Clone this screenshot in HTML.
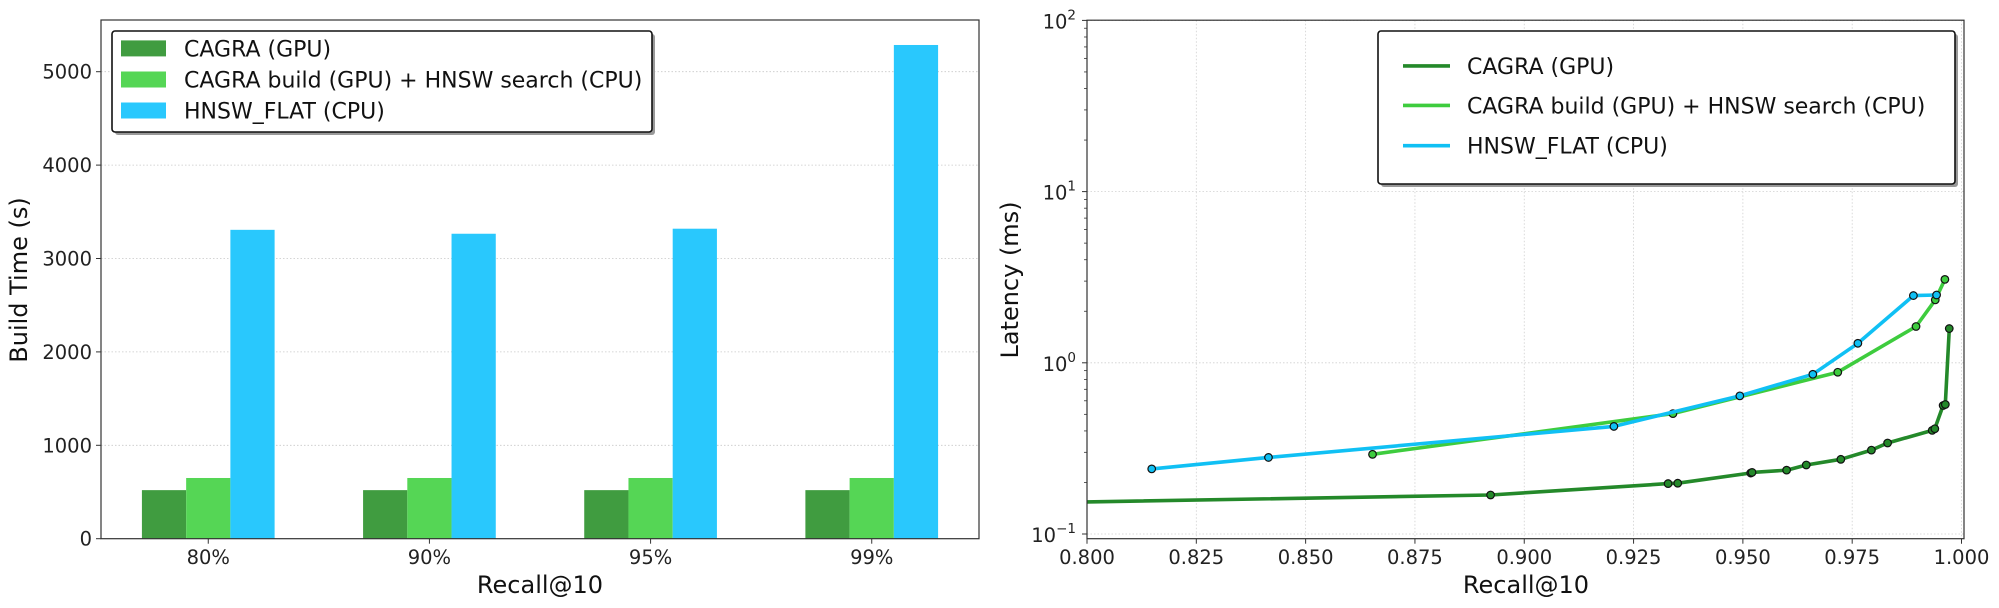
<!DOCTYPE html>
<html><head><meta charset="utf-8">
<style>
html,body{margin:0;padding:0;background:#fff;}
svg{display:block;font-family:"DejaVu Sans","Liberation Sans",sans-serif;}
</style></head>
<body>
<svg id="fig" width="1999" height="608" viewBox="0 0 1999 608" xmlns="http://www.w3.org/2000/svg">
<defs>
<clipPath id="clipR"><rect x="1087" y="20" width="877" height="519"/></clipPath>
</defs>
<rect width="1999" height="608" fill="#fff"/>
<g id="left"></g>
<g id="right"></g>
</svg>
<script>
// ---------- Left chart data ----------
const barCategories = ["80%", "90%", "95%", "99%"];
const cagraGpuBuild = [520, 520, 520, 520];
const cagraHnswBuild = [650, 650, 650, 650];
const hnswFlatBuild = [3307, 3265, 3319, 5286];
const barYTicks = [0, 1000, 2000, 3000, 4000, 5000];

// ---------- Right chart data ----------
const cagraRecall = [0.78, 0.8923, 0.9329, 0.9351, 0.9518, 0.9521, 0.96, 0.9645, 0.9724, 0.9794, 0.9831, 0.9933, 0.9939, 0.9958, 0.9963, 0.9972];
const cagraLatency = [0.151, 0.169, 0.197, 0.198, 0.227, 0.229, 0.236, 0.253, 0.273, 0.309, 0.340, 0.403, 0.412, 0.563, 0.571, 1.585];
const hybridRecall = [0.8653, 0.934, 0.9717, 0.9896, 0.994, 0.9962];
const hybridLatency = [0.292, 0.505, 0.881, 1.63, 2.33, 3.07];
const hnswRecall = [0.8148, 0.8415, 0.9205, 0.9493, 0.966, 0.9763, 0.989, 0.9943];
const hnswLatency = [0.240, 0.280, 0.425, 0.641, 0.857, 1.30, 2.47, 2.49];
const lineXTicks = [0.8, 0.825, 0.85, 0.875, 0.9, 0.925, 0.95, 0.975, 1.0];
const lineYTickExps = [-1, 0, 1, 2];

const NS = "http://www.w3.org/2000/svg";
function mk(parent, tag, attrs, text) {
  const e = document.createElementNS(NS, tag);
  for (const k in attrs) e.setAttribute(k, attrs[k]);
  if (text !== undefined) e.textContent = text;
  parent.appendChild(e);
  return e;
}

// ===== LEFT =====
(function(){
  const g = document.getElementById('left');
  const L = 101, R = 979, T = 20, B = 538.7;
  const yMax = (B - T) / 93.4 * 1000;
  const y = v => B - v / yMax * (B - T);
  const step = (R - L) / 3.97;
  const x = i => L + (i + 0.485) * step;
  const bw = 0.2 * step;
  // grid
  barYTicks.forEach(t => {
    if (t > 0) {
      const gl = mk(g, 'line', {x1:L, x2:R, y1:y(t), y2:y(t), stroke:'#c8c8c8', 'stroke-width':0.8, 'stroke-dasharray':'1.5,2'});
      
      
    }
    const tk = mk(g, 'line', {x1:L-5, x2:L, y1:y(t), y2:y(t), stroke:'#333', 'stroke-width':1});
    
    
    const tl = mk(g, 'text', {x:L-9, y:y(t)+7, 'text-anchor':'end', 'font-size':19.5, fill:'#222'}, String(t));
    
    
  });
  const series = [
    {vals: cagraGpuBuild, color:'#409c40', off:-1, name:'bar-cagra-gpu'},
    {vals: cagraHnswBuild, color:'#55d655', off:0, name:'bar-cagra-build-hnsw-search'},
    {vals: hnswFlatBuild, color:'#29c8fd', off:1, name:'bar-hnsw-flat'}
  ];
  series.forEach(s => {
    s.vals.forEach((v, i) => {
      const cx = x(i) + s.off * bw;
      const r = mk(g, 'rect', {x:cx - bw/2, y:y(v), width:bw, height:B - y(v), fill:s.color});
      
      
    });
  });
  barCategories.forEach((c, i) => {
    const tk = mk(g, 'line', {x1:x(i), x2:x(i), y1:B, y2:B+5, stroke:'#333', 'stroke-width':1});
    
    
    const tl = mk(g, 'text', {x:x(i), y:564, 'text-anchor':'middle', 'font-size':19.5, fill:'#222'}, c);
    
    
  });
  const frame = mk(g, 'rect', {x:L, y:T, width:R-L, height:B-T, fill:'none', stroke:'#333', 'stroke-width':1.2});
  
  
  const xl = mk(g, 'text', {x:(L+R)/2, y:593, 'text-anchor':'middle', 'font-size':24, fill:'#111'}, 'Recall@10');
  
  
  const yl = mk(g, 'text', {x:0, y:0, 'text-anchor':'middle', 'font-size':24, fill:'#111', transform:'translate(27,280) rotate(-90)'}, 'Build Time (s)');
  
  
  // legend
  const lg = mk(g, 'g', {});
  
  
  mk(lg, 'rect', {x:115, y:34, width:540, height:101, rx:3, fill:'#999'});
  mk(lg, 'rect', {x:112, y:31, width:540, height:101, rx:3, fill:'#fff', stroke:'#111', 'stroke-width':1.6});
  const labels = ['CAGRA (GPU)', 'CAGRA build (GPU) + HNSW search (CPU)', 'HNSW_FLAT (CPU)'];
  const ly = [48.4, 79.5, 110.5];
  series.forEach((s, i) => {
    const e = mk(lg, 'g', {});
    
    
    mk(e, 'rect', {x:121, y:ly[i]-8, width:45, height:16, fill:s.color});
    mk(e, 'text', {x:184, y:ly[i]+8, 'font-size':22, fill:'#111'}, labels[i]);
  });
})();

// ===== RIGHT =====
(function(){
  const g = document.getElementById('right');
  const L = 1087, R = 1964, T = 20.2, B = 538.7;
  const xMin = 0.8, xPer = (1961.5 - L) / 0.2;
  const x = v => L + (v - xMin) * xPer;
  const dec = 171.2, y0 = 534;
  const y = v => y0 - (Math.log10(v) + 1) * dec;
  // grid
  lineXTicks.forEach(t => {
    const gl = mk(g, 'line', {x1:x(t), x2:x(t), y1:T, y2:B, stroke:'#d0d0d0', 'stroke-width':0.8, 'stroke-dasharray':'1.5,2'});
    
    
    const tk = mk(g, 'line', {x1:x(t), x2:x(t), y1:B, y2:B+5, stroke:'#333', 'stroke-width':1});
    
    
    const tl = mk(g, 'text', {x:x(t), y:564, 'text-anchor':'middle', 'font-size':19.5, fill:'#222'}, t.toFixed(3));
    
    
  });
  lineYTickExps.forEach(ex => {
    const yy = y(Math.pow(10, ex));
    const gl = mk(g, 'line', {x1:L, x2:R, y1:yy, y2:yy, stroke:'#d0d0d0', 'stroke-width':0.8, 'stroke-dasharray':'1.5,2'});
    
    
    const tk = mk(g, 'line', {x1:L-5, x2:L, y1:yy, y2:yy, stroke:'#333', 'stroke-width':1});
    
    
    const tl = mk(g, 'text', {x:1076, y:yy+8, 'text-anchor':'end', 'font-size':19.5, fill:'#222'});
    
    
    mk(tl, 'tspan', {}, '10');
    mk(tl, 'tspan', {dy:-9, 'font-size':13.5}, ex < 0 ? '\u2212' + (-ex) : String(ex));
    if (ex < 2) {
      for (let m = 2; m <= 9; m++) {
        const my = y(m * Math.pow(10, ex));
        if (my < T) continue;
        const mt = mk(g, 'line', {x1:L-3, x2:L, y1:my, y2:my, stroke:'#333', 'stroke-width':0.8});
        
        
      }
    }
  });
  const series = [
    {xs: hnswRecall, ys: hnswLatency, color:'#10c0f4', name:'hnsw-flat-line'},
    {xs: hybridRecall, ys: hybridLatency, color:'#3ecc3e', name:'cagra-build-hnsw-search-line'},
    {xs: cagraRecall, ys: cagraLatency, color:'#24892a', name:'cagra-gpu-line'}
  ];
  const order = [1, 0, 2];
  order.forEach(k => {
    const s = series[k];
    const sg = mk(g, 'g', {'clip-path':'url(#clipR)'});
    
    
    const pts = s.xs.map((v, i) => x(v).toFixed(1) + ',' + y(s.ys[i]).toFixed(1)).join(' ');
    mk(sg, 'polyline', {points:pts, fill:'none', stroke:s.color, 'stroke-width':3.6, 'stroke-linejoin':'round'});
    s.xs.forEach((v, i) => {
      const c = mk(sg, 'circle', {cx:x(v), cy:y(s.ys[i]), r:3.8, fill:s.color, stroke:'#111', 'stroke-width':1.2});
      
      
    });
  });
  const frame = mk(g, 'rect', {x:L, y:T, width:R-L, height:B-T, fill:'none', stroke:'#333', 'stroke-width':1.2});
  
  
  const xl = mk(g, 'text', {x:1526, y:593, 'text-anchor':'middle', 'font-size':24, fill:'#111'}, 'Recall@10');
  
  
  const yl = mk(g, 'text', {x:0, y:0, 'text-anchor':'middle', 'font-size':24, fill:'#111', transform:'translate(1018,280) rotate(-90)'}, 'Latency (ms)');
  
  
  // legend
  const lg = mk(g, 'g', {});
  
  
  mk(lg, 'rect', {x:1381, y:34, width:577, height:153, rx:3, fill:'#999'});
  mk(lg, 'rect', {x:1378, y:31, width:577, height:153, rx:3, fill:'#fff', stroke:'#111', 'stroke-width':1.6});
  const labels = ['CAGRA (GPU)', 'CAGRA build (GPU) + HNSW search (CPU)', 'HNSW_FLAT (CPU)'];
  const cols = ['#24892a', '#3ecc3e', '#10c0f4'];
  const ly = [65.9, 105.4, 145.7];
  labels.forEach((t, i) => {
    const e = mk(lg, 'g', {});
    
    
    mk(e, 'line', {x1:1403, x2:1450, y1:ly[i], y2:ly[i], stroke:cols[i], 'stroke-width':3.6});
    mk(e, 'text', {x:1467, y:ly[i]+8, 'font-size':22, fill:'#111'}, t);
  });
})();
</script>
</body></html>
